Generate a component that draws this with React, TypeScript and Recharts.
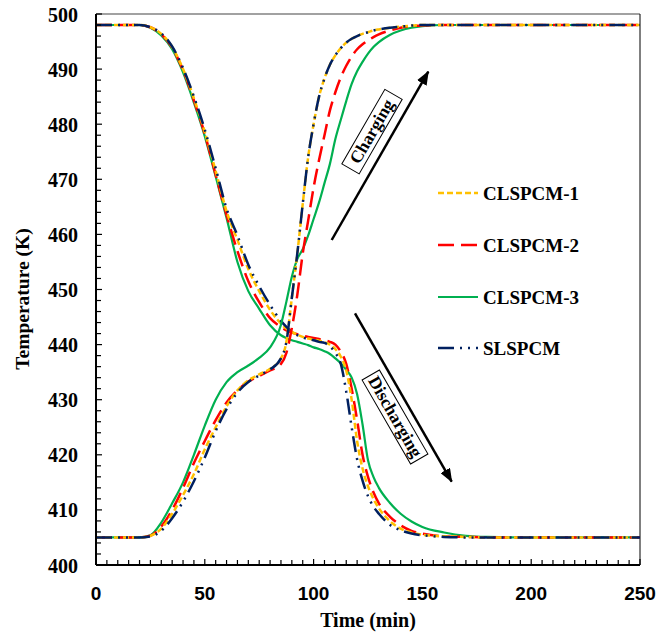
import { LineChart, Line, XAxis, YAxis, ReferenceLine } from "recharts";

// time (min)
const time = [
  0, 10, 20, 25, 30, 35, 40, 45, 50, 55, 60, 65, 70, 75, 80, 85, 87.5, 90, 92.5, 95,
  97.5, 100, 102.5, 105, 107.5, 110, 112.5, 115, 117.5, 120, 122.5, 125, 127.5, 130,
  135, 140, 145, 150, 160, 170, 180, 200, 225, 250,
];

// discharging (K)
const cl1Discharge = [
  498, 498, 498, 497.6, 496.4, 494, 490, 484.7, 478.6, 471.5, 464.2, 459, 453.7, 449.7,
  446.3, 443.8, 442.9, 442.3, 441.8, 441.4, 441.1, 440.9, 440.7, 440.4, 440, 439.2,
  437.8, 435.3, 430, 422.5, 417.5, 414.3, 412, 410.3, 408, 406.6, 405.9, 405.5, 405.2,
  405.1, 405, 405, 405, 405,
];
const cl2Discharge = [
  498, 498, 498, 497.6, 496.3, 493.9, 489.8, 484.3, 478.2, 470.8, 463.5, 457, 451.5,
  447.7, 444.8, 443.2, 442.6, 442.2, 441.9, 441.6, 441.4, 441.2, 441, 440.8, 440.5, 440,
  438.7, 436.5, 432, 426.3, 420, 416, 413.2, 411.2, 408.8, 407.2, 406.2, 405.7, 405.2,
  405.1, 405, 405, 405, 405,
];
const cl3Discharge = [
  498, 498, 498, 497.5, 496.1, 493.6, 489.4, 483.9, 477.8, 470.5, 463, 455, 449.7, 446.5,
  443.5, 441.7, 441.2, 440.8, 440.5, 440.2, 439.9, 439.5, 439.2, 438.8, 438.3, 437.5,
  436.6, 435.4, 434, 431, 425.5, 419, 416, 414, 411.3, 409.3, 407.9, 406.9, 405.9, 405.3,
  405.1, 405, 405, 405,
];
const slDischarge = [
  498, 498, 498, 497.6, 496.5, 494.1, 490.2, 485, 479, 472, 464.7, 459.8, 454.5, 450.6,
  447.2, 444.3, 443.2, 442.3, 441.7, 441.3, 441, 440.8, 440.5, 440.3, 439.7, 438.5,
  436.5, 431.5, 425, 419.2, 415.3, 412.5, 410.6, 409.3, 407.3, 406.3, 405.7, 405.4,
  405.1, 405, 405, 405, 405, 405,
];

// charging (K)
const cl1Charge = [
  405, 405, 405, 405.3, 406.6, 409.3, 412.7, 416.5, 421, 425, 428.8, 431.7, 433.5, 434.6,
  435.6, 437.5, 440.5, 448.5, 456.5, 465.5, 474, 480, 485, 488.3, 490.8, 492.5, 493.8,
  494.8, 495.5, 496, 496.4, 496.7, 497, 497.2, 497.5, 497.7, 497.9, 498, 498, 498, 498,
  498, 498, 498,
];
const cl2Charge = [
  405, 405, 405, 405.3, 407, 410, 414, 418.5, 422.5, 426.3, 429.5, 431.7, 433.3, 434.3,
  435.3, 436.5, 438.5, 443, 449, 456.5, 462.5, 468.5, 473.5, 478, 482.5, 485.8, 488.5,
  490.6, 492.3, 493.6, 494.5, 495.2, 495.8, 496.3, 497, 497.5, 497.8, 497.9, 498, 498,
  498, 498, 498, 498,
];
const cl3Charge = [
  405, 405, 405, 405.4, 407.7, 411.2, 415, 420, 425.3, 430, 433.2, 435, 436.2, 437.6,
  439.5, 443.6, 447.8, 452.3, 455.5, 457.3, 459.8, 462.8, 465.8, 469.3, 472.8, 477.3,
  480.8, 484.2, 487.3, 489.6, 491.3, 492.8, 494, 494.9, 496.2, 497, 497.5, 497.8, 498,
  498, 498, 498, 498, 498,
];
const slCharge = [
  405, 405, 405, 405.2, 406.2, 408.5, 411.5, 415.2, 419.5, 424.3, 428.3, 431.3, 433.2,
  434.4, 435.5, 437.5, 440.5, 448.5, 456.5, 465.5, 474, 480, 485, 488.3, 490.8, 492.5,
  493.8, 494.8, 495.5, 496, 496.4, 496.7, 497, 497.2, 497.5, 497.7, 497.9, 498, 498, 498,
  498, 498, 498, 498,
];

const xTicks = Array.from({ length: 51 }, (_, i) => i * 5);
const yTicks = Array.from({ length: 51 }, (_, i) => 400 + i * 2);

const SERIF = "'Liberation Serif', 'Times New Roman', serif";
const SANS = "'Liberation Sans', Arial, sans-serif";

const series = [
  { key: "cl3", name: "CLSPCM-3", color: "#00B050", dash: undefined, width: 2.2 },
  { key: "cl2", name: "CLSPCM-2", color: "#FF0000", dash: "16 7", width: 2.5 },
  { key: "cl1", name: "CLSPCM-1", color: "#FFC000", dash: "6 3", width: 2.5 },
  { key: "sl", name: "SLSPCM", color: "#002060", dash: "16 6 2 6 2 6", width: 2.5 },
];
const legendOrder = ["cl1", "cl2", "cl3", "sl"];

const data = time.map((t, i) => ({
  t,
  cl1c: cl1Charge[i],
  cl1d: cl1Discharge[i],
  cl2c: cl2Charge[i],
  cl2d: cl2Discharge[i],
  cl3c: cl3Charge[i],
  cl3d: cl3Discharge[i],
  slc: slCharge[i],
  sld: slDischarge[i],
}));

const XTick = (props: any) => {
  const { x, y, payload } = props;
  const v = payload.value;
  const major = v % 50 === 0;
  return (
    <g>
      <line x1={x} x2={x} y1={y} y2={y - (major ? 6 : 5)} stroke="#000" strokeWidth={1.2} />
      {major && (
        <text x={x} y={y + 34.5} textAnchor="middle" fontFamily={SANS} fontWeight="bold" fontSize={19} fill="#000">
          {v}
        </text>
      )}
    </g>
  );
};

const YTick = (props: any) => {
  const { x, y, payload } = props;
  const v = payload.value;
  const major = v % 10 === 0;
  return (
    <g>
      <line x1={x} x2={x + (major ? 6 : 5)} y1={y} y2={y} stroke="#000" strokeWidth={1.2} />
      {major && (
        <text x={x - 18} y={y + 7.5} textAnchor="end" fontFamily={SERIF} fontWeight="bold" fontSize={20} fill="#000">
          {v}
        </text>
      )}
    </g>
  );
};

export default function App() {
  return (
    <div style={{ position: "absolute", left: 0, top: 0, width: 671, height: 635, background: "#fff" }}>
      <LineChart width={671} height={635} data={data} margin={{ top: 14, right: 31, bottom: 20, left: 36 }}>
        <XAxis
          dataKey="t"
          type="number"
          domain={[0, 250]}
          ticks={xTicks}
          interval={0}
          tickSize={0}
          tickMargin={0}
          tickLine={false}
          tick={XTick}
          height={50}
          axisLine={{ stroke: "#000", strokeWidth: 2 }}
        />
        <YAxis
          type="number"
          domain={[400, 500]}
          ticks={yTicks}
          interval={0}
          tickSize={0}
          tickMargin={0}
          tickLine={false}
          tick={YTick}
          width={60}
          axisLine={{ stroke: "#000", strokeWidth: 2 }}
        />
        <ReferenceLine y={500} stroke="#444" strokeWidth={1.2} />
        <ReferenceLine x={250} stroke="#000" strokeWidth={1} />
        {series.map((s) => (
          <Line
            key={s.key + "d"}
            dataKey={s.key + "d"}
            type="monotone"
            stroke={s.color}
            strokeWidth={s.width}
            strokeDasharray={s.dash}
            dot={false}
            activeDot={false}
            isAnimationActive={false}
          />
        ))}
        {series.map((s) => (
          <Line
            key={s.key + "c"}
            dataKey={s.key + "c"}
            type="monotone"
            stroke={s.color}
            strokeWidth={s.width}
            strokeDasharray={s.dash}
            dot={false}
            activeDot={false}
            isAnimationActive={false}
          />
        ))}
      </LineChart>
      <svg width={671} height={635} style={{ position: "absolute", left: 0, top: 0, pointerEvents: "none" }}>
        <defs>
          <marker id="head" markerWidth={14} markerHeight={11} refX={13} refY={5.5} orient="auto" markerUnits="userSpaceOnUse">
            <path d="M0,0 L14,5.5 L0,11 z" fill="#000" />
          </marker>
        </defs>
        <text x={368} y={627} textAnchor="middle" fontFamily={SERIF} fontWeight="bold" fontSize={20}>
          Time (min)
        </text>
        <text transform="translate(29,299) rotate(-90)" textAnchor="middle" fontFamily={SERIF} fontWeight="bold" fontSize={19.5}>
          Temperature (K)
        </text>

        {legendOrder.map((k, i) => {
          const s = series.find((d) => d.key === k)!;
          const y = [193, 245, 297, 348][i];
          return (
            <g key={k}>
              <line x1={438} x2={478} y1={y} y2={y} stroke={s.color} strokeWidth={s.width} strokeDasharray={s.dash} />
              <text x={483} y={y + 6.5} fontFamily={SERIF} fontWeight="bold" fontSize={19}>
                {s.name}
              </text>
            </g>
          );
        })}

        <line x1={331.7} y1={240} x2={428.3} y2={71.7} stroke="#000" strokeWidth={2.5} markerEnd="url(#head)" />
        <g transform="translate(372,131.6) rotate(-60)">
          <rect x={-43} y={-10} width={86} height={20} fill="#fff" stroke="#000" strokeWidth={1} />
          <text x={0} y={5.5} textAnchor="middle" fontFamily={SERIF} fontWeight="bold" fontSize={17.5}>
            Charging
          </text>
        </g>

        <line x1={355} y1={313.3} x2={451.7} y2={481.7} stroke="#000" strokeWidth={2.5} markerEnd="url(#head)" />
        <g transform="translate(395,417) rotate(60)">
          <rect x={-48.5} y={-10} width={97} height={20} fill="#fff" stroke="#000" strokeWidth={1} />
          <text x={0} y={5.5} textAnchor="middle" fontFamily={SERIF} fontWeight="bold" fontSize={17.5}>
            Discharging
          </text>
        </g>
      </svg>
    </div>
  );
}
